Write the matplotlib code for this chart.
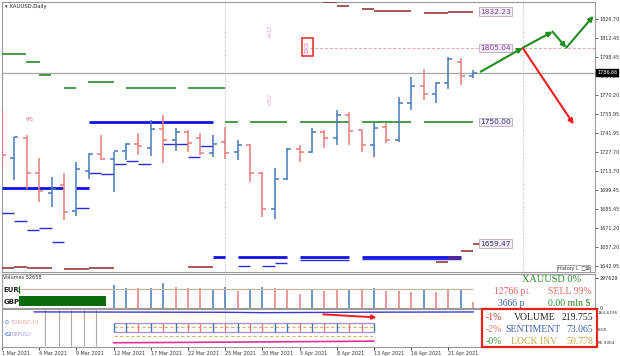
import numpy as np
import matplotlib.pyplot as plt
from matplotlib.patches import Rectangle

W, H = 620, 356

# daily XAUUSD bars, index 0 = 1 Mar 2021
opens = [1734, 1723, 1738.5, 1712, 1697, 1703, 1684, 1714, 1726, 1722.3,
         1728.7, 1733.7, 1731, 1745, 1737, 1743, 1738, 1727, 1735, 1728,
         1733, 1712.5, 1685, 1707.4, 1729.7, 1728, 1743, 1738, 1755, 1744,
         1733, 1746, 1736.7, 1764, 1776.9, 1771, 1779, 1795, 1784.3]
highs = [1760, 1739.2, 1740.6, 1723, 1709, 1712, 1720, 1727, 1740.6, 1728,
         1734.4, 1741.9, 1751.6, 1755, 1745.8, 1744, 1741.6, 1740.6, 1746.7, 1736.7,
         1733.5, 1713.2, 1715.6, 1730.5, 1733, 1745.9, 1744.1, 1759, 1757.7, 1744.5,
         1749.1, 1749, 1768.9, 1783.8, 1789.6, 1780, 1798.7, 1797.8, 1788.7]
lows = [1716.6, 1706.9, 1700, 1690.8, 1687, 1677, 1680, 1708, 1722, 1698,
        1722, 1725.6, 1724.7, 1719.4, 1728.7, 1728, 1725.6, 1724.3, 1722.5, 1722,
        1705.7, 1679.2, 1677.7, 1707, 1720.6, 1726.8, 1730.5, 1733, 1733, 1728,
        1724.3, 1734.3, 1735.5, 1759, 1766.2, 1764, 1775, 1777.7, 1782.5]
closes = [1725.5, 1738.9, 1712.5, 1699, 1700, 1683.5, 1715, 1726, 1722.5, 1728.7,
          1733.7, 1732.2, 1745, 1737, 1743, 1734.5, 1726.8, 1734, 1727, 1733,
          1712.5, 1685, 1707.4, 1729.7, 1728, 1743, 1737.9, 1755.3, 1743.5, 1733,
          1745.8, 1736.7, 1764, 1776.9, 1771, 1779, 1796.8, 1784.3, 1786.66]

date_ticks = [0, 3, 6, 9, 12, 15, 18, 21, 24, 27, 30, 33, 36]
date_labels = ['1 Mar 2021', '4 Mar 2021', '9 Mar 2021', '12 Mar 2021', '17 Mar 2021',
               '22 Mar 2021', '25 Mar 2021', '30 Mar 2021', '5 Apr 2021', '8 Apr 2021',
               '13 Apr 2021', '16 Apr 2021', '21 Apr 2021']
price_ticks = [1826.70, 1812.45, 1798.45, 1784.20, 1770.20, 1755.95, 1741.95,
               1727.70, 1713.70, 1699.45, 1685.45, 1671.20, 1657.20, 1642.95]
last_price = 1786.66

# level segments: start bar, end bar, price
green_start = [0, 1.9, 3, 5, 6.9, 10, 15, 18, 20, 24, 29, 34]
green_end = [1.9, 3.1, 3.95, 6, 9, 14, 18, 19, 23, 28, 33, 38]
green_level = [1800.7, 1794.9, 1785.3, 1775.4, 1780.0, 1775.4, 1775.4,
               1750, 1750, 1750, 1750, 1750]

blue_start = [7, 0, 6, 17, 19, 24, 29]
blue_end = [17, 4.9, 7, 18, 23, 28, 37]
blue_level = [1750, 1700.7, 1700.7, 1649.9, 1649.9, 1649.9, 1649.9]

thin_start = [0, 1, 2, 3, 4, 6, 7, 8, 9, 10, 11, 13, 15, 16, 19, 21, 22, 24, 29]
thin_end = [1, 2, 3, 4, 5, 7, 8, 9, 10, 11, 12, 15, 16, 17, 20, 22, 23, 28, 37]
thin_level = [1682.4, 1676.7, 1669.7, 1671.4, 1660.8, 1686.4, 1712.4, 1711.4, 1718.8,
              1721, 1718.8, 1733.5, 1723.8, 1732.4, 1643.2, 1643.2, 1645.4, 1647.4, 1648.5]

maroon_start = [25.9, 27, 29, 30, 34, 36, 0, 1, 2, 3, 5, 7, 15, 35, 36, 37, 38]
maroon_end = [27, 28, 30, 33, 36, 38, 1, 2, 3, 4, 7, 9, 17, 36, 37, 38, 38.6]
maroon_level = [1839.3, 1836.4, 1834.1, 1832.9, 1830.9, 1832.1,
                1641.2, 1642.2, 1641.2, 1641.2, 1640.5, 1641.5, 1642.0,
                1646.2, 1648.7, 1654.3, 1659.1]

level_labels = ['1832.23', '1805.04', '1750.00', '1659.47']
level_values = [1832.23, 1805.04, 1750.00, 1659.47]
level_colors = ['#8a3f96', '#8a3f96', '#303070', '#303070']

# forecast arrows (bar index, price)
green_path_x = [38.6, 42.0, 44.4, 45.5, 47.7]
green_path_y = [1787.5, 1805.3, 1817.3, 1805.3, 1829.0]
red_path_x = [42.0, 46.1]
red_path_y = [1805.0, 1748.4]

# volumes
vol_index = list(range(9, 39))
volumes = [230000, 199000, 199000, 199000, 250000, 213000, 196000, 196000, 190000, 213000,
           169000, 179000, 213000, 202000, 179000, 136000, 179000, 169000, 179000, 179000,
           179000, 196000, 169000, 169000, 159000, 179000, 159000, 179000, 179000, 61000]
vol_up = [1, 1, 0, 1, 1, 0, 0, 0, 1, 1, 0, 1, 1, 0, 0, 0, 1, 0, 0, 1,
          0, 1, 0, 0, 0, 1, 0, 0, 1, 0]
vol_level = 186000
vol_top = 297629

# indicator window
ind_grey_x = [3.5, 4.6, 5.6, 6.6, 7.6]
ind_box_start, ind_box_end = 9, 30
ind_upper, ind_lower = 138.1, 115.8
ind_dash = [127.6, 104.0]
ind_blue_x = [2.6, 10, 18, 21, 26, 30, 38]
ind_blue_y = [167.5, 167.0, 166.5, 165.5, 166.2, 166.8, 167.3]
ind_pink_x = [9, 20, 30]
ind_pink_y = [86.5, 88.5, 90.8]

BULL = '#4677b8'
BEAR = '#ea7b7b'


def fy(y):
    return 1 - y / H


def px_axes(x0, y0, x1, y1):
    return fig.add_axes([x0 / W, fy(y1), (x1 - x0) / W, (y1 - y0) / H])


fig = plt.figure(figsize=(6.2, 3.56), dpi=100)
fig.patch.set_facecolor('white')
plt.rcParams['font.family'] = ['DejaVu Sans']

ax = px_axes(2, 2, 595, 272)
ax_v = px_axes(2, 274, 595, 308)
ax_i = px_axes(2, 309, 595, 347)

x_lim = (0, 47.82)
for a in (ax, ax_v, ax_i):
    a.set_xlim(*x_lim)
    for s in a.spines.values():
        s.set_color('#9a9a9a')
        s.set_linewidth(0.8)
    a.tick_params(axis='both', length=0)
    a.set_xticks([])

TICK_FS = 3.5

ax.set_ylim(1638.5, 1839.35)
ax.yaxis.tick_right()
ax.set_yticks(price_ticks)
ax.set_yticklabels(['%.2f' % p for p in price_ticks], fontsize=TICK_FS, color='#333333')
ax.tick_params(axis='y', length=2, width=0.5, pad=1, colors='#333333')

idx = np.arange(len(opens))
cols = [BULL if c >= o else BEAR for o, c in zip(opens, closes)]
ax.vlines(idx, lows, highs, colors=cols, lw=1.1, zorder=4)
ax.hlines(opens, idx - 0.32, idx, colors=cols, lw=1.1, zorder=4)
ax.hlines(closes, idx, idx + 0.32, colors=cols, lw=1.1, zorder=4)

ax.hlines(green_level, green_start, green_end, colors='#3d9140', lw=1.3, zorder=3)
ax.hlines(blue_level, blue_start, blue_end, colors='#1010e8', lw=2.0, zorder=3)
ax.hlines(thin_level, thin_start, thin_end, colors='#2a2ae0', lw=1.0, zorder=3)
ax.hlines(maroon_level, maroon_start, maroon_end, colors='#8c2a2a', lw=1.1, zorder=3)

ax.axhline(last_price, color='#a8a8a8', lw=0.9, zorder=2)
ax.hlines(level_values[1], 24.8, x_lim[1], colors='#e6a2a8', lw=0.7,
          linestyles=(0, (3, 2)), zorder=2)
for xv in (18, 42):
    ax.axvline(xv, color='#b0b0b0', lw=0.7, ls=':', zorder=1)
ax_v.axvline(18, color='#b0b0b0', lw=0.7, ls=':')
ax_i.axvline(18, color='#b0b0b0', lw=0.7, ls=':')

for lab, val, col in zip(level_labels, level_values, level_colors):
    ax.text(38.55, val, lab, fontsize=5.3, color=col, va='center', ha='left', zorder=6,
            bbox=dict(boxstyle='square,pad=0.18', fc='#f3eef6', ec='#b7a6c6', lw=0.6))

# analyst arrows
for i in range(len(green_path_x) - 1):
    ax.annotate('', xy=(green_path_x[i + 1], green_path_y[i + 1]),
                xytext=(green_path_x[i], green_path_y[i]),
                arrowprops=dict(arrowstyle='-|>', color='#1e8c1e', lw=1.5,
                                mutation_scale=7, shrinkA=0, shrinkB=0), zorder=7)
ax.annotate('', xy=(red_path_x[1], red_path_y[1]), xytext=(red_path_x[0], red_path_y[0]),
            arrowprops=dict(arrowstyle='-|>', color='#ee1c1c', lw=1.5,
                            mutation_scale=7, shrinkA=0, shrinkB=0), zorder=7)

# small annotations in main window
ax.add_patch(Rectangle((24.2, 1799.1), 0.85, 13.4, fill=False, ec='#e8231f', lw=1.1, zorder=6))
ax.text(24.62, 1805.8, '1805', rotation=90, fontsize=3.4, color='#d86a9a',
        ha='center', va='center', zorder=6)
ax.text(21.6, 1817.5, '+513', rotation=90, fontsize=3.4, color='#d89ac0',
        ha='center', va='center')
ax.text(21.6, 1767.0, '+352', rotation=90, fontsize=3.4, color='#d89ac0',
        ha='center', va='center')
ax.text(2.2, 1752.5, '9/5', fontsize=3.6, color='#e06a6a', ha='center', va='center')
ax.text(0.25, 1836.2, '\u25be XAUUSD,Daily', fontsize=3.8, color='#222222',
        ha='left', va='center')
ax.text(44.8, 1641.3, 'History L  \u25a1\u22a0', fontsize=3.3, color='#333333',
        ha='left', va='center',
        bbox=dict(boxstyle='square,pad=0.2', fc='white', ec='#888888', lw=0.5))

# current price tag
fig.text(597 / W, fy(72.5), '%.2f' % last_price, fontsize=TICK_FS, color='white',
         ha='left', va='center', bbox=dict(boxstyle='square,pad=0.25', fc='black', ec='black'))

# volumes window
ax_v.set_ylim(-3000, 341000)
ax_v.vlines(vol_index, 0, volumes, colors=[BULL if u else BEAR for u in vol_up], lw=1.1)
ax_v.hlines(vol_level, 1.5, 38, colors='#c0b89a', lw=0.9)
ax_v.add_patch(Rectangle((1.4, 15000), 7.0, 100000, fc='#0b6a0b', ec='none'))
ax_v.vlines(1.4, 150000, 215000, colors='#0b6a0b', lw=1.0)
ax_v.text(0.1, 305000, 'Volumes 52658', fontsize=3.6, color='#333333', va='center')
ax_v.text(0.1, 180000, 'EUR', fontsize=5, color='#222222', va='center', fontweight='bold')
ax_v.text(0.1, 60000, 'GBP', fontsize=5, color='#222222', va='center', fontweight='bold')
ax_v.set_yticks([vol_top, 0])
ax_v.yaxis.tick_right()
ax_v.set_yticklabels(['%d' % vol_top, '0'], fontsize=TICK_FS, color='#333333')
ax_v.tick_params(axis='y', length=2, width=0.5, pad=1)

# indicator window
ax_i.set_ylim(75.4, 175.1)
ax_i.vlines(ind_grey_x, 78, 172, colors='#a8a8a8', lw=0.8)
ax_i.plot(ind_blue_x, ind_blue_y, color='#3a3ac8', lw=1.0)
ax_i.plot(ind_pink_x, ind_pink_y, color='#e0329a', lw=1.2)
ax_i.hlines([ind_upper, ind_lower], ind_box_start, ind_box_end, colors='#a98bd8', lw=0.9)
ax_i.hlines(ind_dash, ind_box_start, ind_box_end, colors='#d4b46a', lw=0.8,
            linestyles=(0, (3, 2)))
box_idx = np.arange(ind_box_start, ind_box_end + 1)
ax_i.vlines(box_idx, ind_lower, ind_upper, colors=[cols[i] for i in box_idx], lw=1.0)
ax_i.annotate('', xy=(30.2, 153), xytext=(25.9, 161),
              arrowprops=dict(arrowstyle='-|>', color='#ee1c1c', lw=1.4,
                              mutation_scale=6, shrinkA=0, shrinkB=0))
ax_i.text(0.25, 140, '0', fontsize=4.5, color='#3a6ac8', va='center')
ax_i.text(0.8, 140, 'EURUSD:10', fontsize=3.4, color='#e8a0a0', va='center')
ax_i.text(0.25, 108, '62', fontsize=4.5, color='#3a6ac8', va='center')
ax_i.text(0.8, 108, 'GBPUSD', fontsize=3.4, color='#a0a0e0', va='center')
ax_i.set_yticks([164.6195, 122.2, 85.9364])
ax_i.yaxis.tick_right()
ax_i.set_yticklabels(['164.6195', '8.00', '85.9364'], fontsize=3.1, color='#333333')
ax_i.tick_params(axis='y', length=1.5, width=0.5, pad=0.6)
ax_i.set_xticks(date_ticks)
ax_i.set_xticklabels(date_labels, fontsize=TICK_FS, color='#333333', ha='left')
ax_i.tick_params(axis='x', length=2, width=0.5, pad=1)

# info panel
fig.add_artist(Rectangle((482 / W, fy(347)), 115 / W, 38 / H, transform=fig.transFigure,
                         fc='white', ec='#e8231f', lw=1.6, zorder=5))
serif = 'Liberation Serif'
info = [
    (552, 280, 'XAUUSD 0%', '#2a8a2a', 7.4),
    (512, 292, '12766 p\u2193', '#e06262', 7),
    (570, 292, 'SELL 99%', '#e06262', 7),
    (511, 303, '3666 p', '#3b5fb4', 7),
    (569, 303, '0.00 mln $', '#2a8a2a', 7),
    (494, 318, '-1%', '#d03030', 7),
    (535, 318, 'VOLUME', '#222222', 7),
    (577, 318, '219.755', '#222222', 7),
    (494, 329, '-2%', '#e07070', 7),
    (533, 329, 'SENTIMENT', '#3a5fb0', 7),
    (580, 329, '73.065', '#3a5fb0', 7),
    (494, 341, '-0%', '#3e9e3e', 7),
    (534, 341, 'LOCK INV', '#c9a446', 7),
    (580, 341, '50.778', '#c9a446', 7),
]
for x, y, t, c, fs in info:
    fig.text(x / W, fy(y), t, fontsize=fs, color=c, ha='center', va='center',
             family=[serif, 'DejaVu Sans'], zorder=6)

fig.savefig('out.png', dpi=100, facecolor='white')
